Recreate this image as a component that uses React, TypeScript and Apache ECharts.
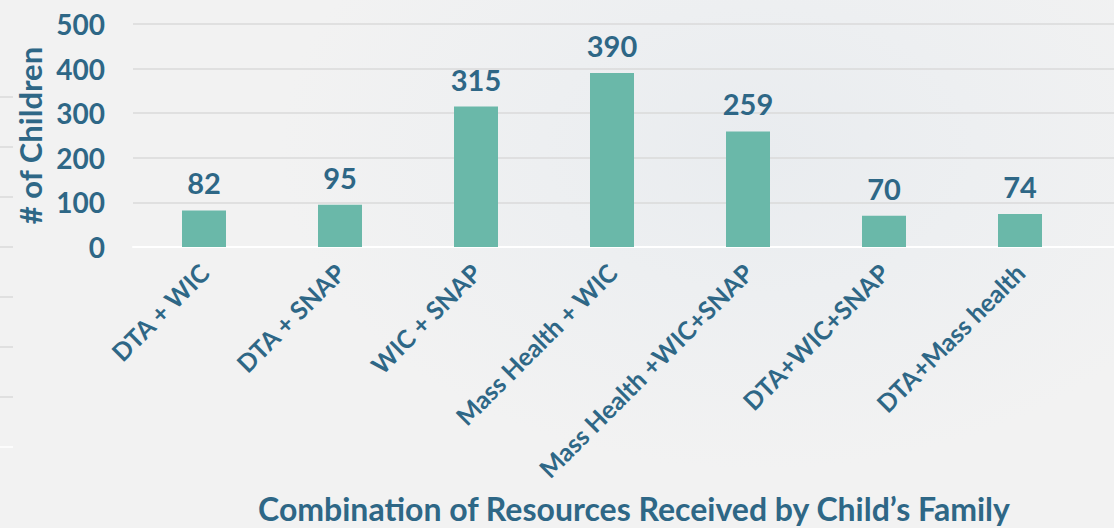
import React, { useEffect, useRef } from "react";
import * as echarts from "echarts";

const categories = [
  "DTA + WIC",
  "DTA + SNAP",
  "WIC + SNAP",
  "Mass Health + WIC",
  "Mass Health +WIC+SNAP",
  "DTA+WIC+SNAP",
  "DTA+Mass health",
];
const values = [82, 95, 315, 390, 259, 70, 74];
const yTicks = [0, 100, 200, 300, 400, 500];
const yAxisTitle = "# of Children";
const xAxisTitle = "Combination of Resources Received by Child\u2019s Family";

const TEXT = "#2E6786";
const BAR = "#6AB8A9";
const GRID = "#DADADA";
const FONT = "Lato, 'Noto Sans', sans-serif";

export default function App() {
  const ref = useRef<HTMLDivElement>(null);
  useEffect(() => {
    document.body.style.margin = "0";
    if (!ref.current) return;
    const chart = echarts.init(ref.current, undefined, { renderer: "svg" });
    const yMin = yTicks[0];
    const yMax = yTicks[yTicks.length - 1];
    const yStep = yTicks[1] - yTicks[0];
    chart.setOption({
      animation: false,
      backgroundColor: "transparent",
      textStyle: { fontFamily: FONT },
      title: {
        text: xAxisTitle,
        left: 629,
        top: 487,
        textAlign: "center",
        textStyle: { color: TEXT, fontSize: 32, fontWeight: "bold", fontFamily: FONT },
      },
      grid: [
        { left: 133, right: 0, top: 24, height: 223 },
        { left: 136, width: 952, top: 24, height: 223 },
        { left: 0, width: 13, top: 97, height: 350 },
      ],
      xAxis: [
        {
          gridIndex: 0,
          type: "value",
          min: 0,
          max: 1,
          axisLine: { show: true, lineStyle: { color: "#FFFFFF", width: 2 } },
          axisTick: { show: false },
          axisLabel: { show: false },
          splitLine: { show: false },
        },
        {
          gridIndex: 1,
          type: "category",
          data: categories,
          axisLine: { show: false },
          axisTick: { show: false },
          axisLabel: {
            rotate: 45,
            margin: 21,
            interval: 0,
            color: TEXT,
            fontSize: 25,
            fontWeight: "bold",
            fontFamily: FONT,
          },
        },
        {
          gridIndex: 2,
          type: "value",
          min: 0,
          max: 1,
          show: false,
        },
      ],
      yAxis: [
        {
          gridIndex: 0,
          type: "value",
          min: yMin,
          max: yMax,
          interval: yStep,
          axisLine: { show: false },
          axisTick: { show: false },
          axisLabel: {
            margin: 28,
            color: TEXT,
            fontSize: 28,
            fontWeight: "bold",
            fontFamily: FONT,
          },
          splitLine: {
            show: true,
            lineStyle: { color: ["#FFFFFF", GRID, GRID, GRID, GRID, GRID], width: 1.5 },
          },
          name: yAxisTitle,
          nameLocation: "middle",
          nameRotate: 90,
          nameGap: 88,
          nameTextStyle: { color: TEXT, fontSize: 31, fontWeight: "bold", fontFamily: FONT },
        },
        {
          gridIndex: 1,
          type: "value",
          min: yMin,
          max: yMax,
          interval: yStep,
          show: false,
          splitLine: { show: false },
        },
        {
          gridIndex: 2,
          type: "value",
          min: 0,
          max: 7,
          interval: 1,
          axisLine: { show: false },
          axisTick: { show: false },
          axisLabel: { show: false },
          splitLine: {
            show: true,
            lineStyle: { color: ["#FFFFFF", GRID, GRID, GRID, GRID, GRID, GRID, GRID], width: 1.5 },
          },
        },
      ],
      series: [
        {
          type: "bar",
          xAxisIndex: 1,
          yAxisIndex: 1,
          data: values,
          barWidth: 44,
          itemStyle: { color: BAR },
          label: {
            show: true,
            position: "top",
            distance: 13,
            color: TEXT,
            fontSize: 29,
            fontWeight: "bold",
            fontFamily: FONT,
          },
        },
      ],
    });
    return () => chart.dispose();
  }, []);
  return (
    <div
      ref={ref}
      style={{
        width: 1114,
        height: 528,
        background:
          "radial-gradient(ellipse 480px 320px at 760px 150px, #E9ECEF 0%, #EDEFF1 45%, #F2F2F2 100%)",
        backgroundColor: "#F2F2F2",
      }}
    />
  );
}
